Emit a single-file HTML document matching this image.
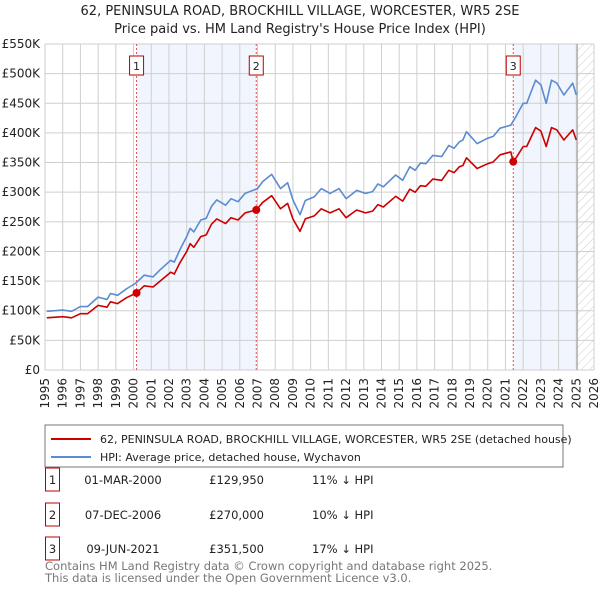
<!DOCTYPE html>
<html><head><meta charset="utf-8"><style>
body{margin:0;background:#fff;font-family:"DejaVu Sans","Liberation Sans",sans-serif;}
#wrap{position:relative;width:600px;height:590px;overflow:hidden;}
svg text{font-family:"DejaVu Sans","Liberation Sans",sans-serif;}
</style></head><body>
<div id="wrap">
<svg id="chart" width="600" height="590" xmlns="http://www.w3.org/2000/svg">
<defs><pattern id="hatch" width="6" height="6" patternUnits="userSpaceOnUse" patternTransform="rotate(45)"><line x1="0" y1="0" x2="0" y2="6" stroke="#ccc" stroke-width="1"/></pattern></defs>
<text x="300" y="15" text-anchor="middle" font-size="13" fill="#222">62, PENINSULA ROAD, BROCKHILL VILLAGE, WORCESTER, WR5 2SE</text>
<text x="300" y="33" text-anchor="middle" font-size="13" fill="#222">Price paid vs. HM Land Registry's House Price Index (HPI)</text>
<g id="grid"></g><g id="series"></g><g id="axes"></g>
<rect x="45" y="425" width="518" height="42" fill="#fff" stroke="#777" stroke-width="1"/>
<line x1="51" y1="439" x2="91" y2="439" stroke="#cc0000" stroke-width="2"/>
<text x="100" y="443" font-size="11" fill="#222">62, PENINSULA ROAD, BROCKHILL VILLAGE, WORCESTER, WR5 2SE (detached house)</text>
<line x1="51" y1="457" x2="91" y2="457" stroke="#5b8bd0" stroke-width="2"/>
<text x="100" y="461" font-size="11" fill="#222">HPI: Average price, detached house, Wychavon</text>
<g id="table"></g>
<text x="45" y="570" font-size="11.5" fill="#777">Contains HM Land Registry data © Crown copyright and database right 2025.</text>
<text x="45" y="582" font-size="11.5" fill="#777">This data is licensed under the Open Government Licence v3.0.</text>
</svg>
</div>
<script>
const hpiYears=[1995.1,1996.0,1996.5,1997.0,1997.4,1998.0,1998.5,1998.7,1999.1,1999.6,2000.1,2000.6,2001.1,2001.5,2002.1,2002.3,2002.6,2003.0,2003.2,2003.4,2003.8,2004.1,2004.4,2004.7,2005.2,2005.5,2005.9,2006.3,2007.0,2007.3,2007.8,2008.3,2008.7,2009.0,2009.4,2009.7,2010.2,2010.6,2011.1,2011.6,2012.0,2012.6,2013.1,2013.5,2013.8,2014.1,2014.8,2015.2,2015.6,2015.9,2016.2,2016.5,2016.9,2017.4,2017.8,2018.1,2018.4,2018.6,2018.8,2019.4,2020.0,2020.3,2020.7,2021.3,2021.6,2022.0,2022.2,2022.7,2023.0,2023.3,2023.6,2023.9,2024.3,2024.5,2024.8,2025.0];
const hpiValues=[99,101,99,107,107,123,119,129,126,137,146,160,157,169,185,182,202,225,239,233,253,256,276,287,278,289,284,298,306,318,330,306,316,287,262,286,292,306,298,306,289,303,298,301,314,309,329,320,343,337,349,348,362,360,379,374,385,388,402,382,391,394,408,413,428,450,450,489,481,450,489,484,464,472,484,464];
const propYears=[1995.1,1996.0,1996.5,1997.0,1997.4,1998.0,1998.5,1998.7,1999.1,1999.6,2000.17,2000.6,2001.1,2001.5,2002.1,2002.3,2002.6,2003.0,2003.2,2003.4,2003.8,2004.1,2004.4,2004.7,2005.2,2005.5,2005.9,2006.3,2006.93,2007.3,2007.8,2008.3,2008.7,2009.0,2009.4,2009.7,2010.2,2010.6,2011.1,2011.6,2012.0,2012.6,2013.1,2013.5,2013.8,2014.1,2014.8,2015.2,2015.6,2015.9,2016.2,2016.5,2016.9,2017.4,2017.8,2018.1,2018.4,2018.6,2018.8,2019.4,2020.0,2020.3,2020.7,2021.3,2021.44,2021.6,2022.0,2022.2,2022.7,2023.0,2023.3,2023.6,2023.9,2024.3,2024.5,2024.8,2025.0];
const propValues=[88,90,88,95,95,109,106,115,112,122,130,142,140,150,165,162,180,200,213,207,225,228,246,255,247,257,253,265,270,283,294,272,281,255,234,255,260,272,265,272,257,270,265,268,279,275,293,285,305,300,311,310,322,320,337,333,343,345,358,340,348,351,363,368,351.5,358,377,377,409,403,377,409,405,388,395,405,388];
const saleLabels=["1","2","3"];
const saleYears=[2000.17,2006.93,2021.44];
const salePrices=[129.95,270,351.5];
const saleDates=["01-MAR-2000","07-DEC-2006","09-JUN-2021"];
const salePriceText=["£129,950","£270,000","£351,500"];
const saleHpiText=["11% ↓ HPI","10% ↓ HPI","17% ↓ HPI"];
const yTicks=[0,50,100,150,200,250,300,350,400,450,500,550];
const yTickLabels=["£0","£50K","£100K","£150K","£200K","£250K","£300K","£350K","£400K","£450K","£500K","£550K"];
const xTicks=[1995,1996,1997,1998,1999,2000,2001,2002,2003,2004,2005,2006,2007,2008,2009,2010,2011,2012,2013,2014,2015,2016,2017,2018,2019,2020,2021,2022,2023,2024,2025,2026];
const dataEnd=2025.05;

const NS="http://www.w3.org/2000/svg";
const X0=45,X1=594,Y0=370,Y1=44;
const xs=y=>X0+(y-1995)/(2026-1995)*(X1-X0);
const ys=v=>Y0-v/550*(Y0-Y1);
function mk(tag,attrs,parent){const e=document.createElementNS(NS,tag);for(const k in attrs)e.setAttribute(k,attrs[k]);parent.appendChild(e);return e;}
const grid=document.getElementById('grid'),series=document.getElementById('series'),axes=document.getElementById('axes'),table=document.getElementById('table');

const bg=mk('rect',{x:X0,y:Y1,width:X1-X0,height:Y0-Y1,fill:'#fff'},grid);


const s1=mk('rect',{x:xs(saleYears[0]),y:Y1,width:xs(saleYears[1])-xs(saleYears[0]),height:Y0-Y1,fill:'#eef3fc',opacity:0.8},grid);


const s3=mk('rect',{x:xs(saleYears[2]),y:Y1,width:xs(dataEnd)-xs(saleYears[2]),height:Y0-Y1,fill:'#eef3fc',opacity:0.8},grid);


const hz=mk('rect',{x:xs(dataEnd),y:Y1,width:X1-xs(dataEnd),height:Y0-Y1,fill:'url(#hatch)'},grid);


xTicks.forEach(t=>{
  const l=mk('line',{x1:xs(t),x2:xs(t),y1:Y1,y2:Y0,stroke:'#cfcfcf','stroke-width':1},grid);
  
  
  const tx=mk('text',{x:0,y:0,'font-size':12,fill:'#222','text-anchor':'end',transform:`translate(${xs(t)+4},${Y0+8}) rotate(-90)`},axes);
  tx.textContent=t;
  
  
});
yTicks.forEach((t,i)=>{
  const l=mk('line',{x1:X0,x2:X1,y1:ys(t),y2:ys(t),stroke:'#cfcfcf','stroke-width':1},grid);
  
  
  const tx=mk('text',{x:X0-5,y:ys(t)+4,'font-size':12,fill:'#222','text-anchor':'end'},axes);
  tx.textContent=yTickLabels[i];
  
  
});
const de=mk('line',{x1:xs(dataEnd),x2:xs(dataEnd),y1:Y1,y2:Y0,stroke:'#999','stroke-width':1},grid);


saleYears.forEach((y,i)=>{
  const l=mk('line',{x1:xs(y),x2:xs(y),y1:Y1,y2:Y0,stroke:'#e05050','stroke-width':1,'stroke-dasharray':'2,2'},grid);
  
  
});
const pts=(xa,va)=>xa.map((y,i)=>xs(y).toFixed(1)+','+ys(va[i]).toFixed(1)).join(' ');
const hl=mk('polyline',{points:pts(hpiYears,hpiValues),fill:'none',stroke:'#5b8bd0','stroke-width':1.6,'stroke-linejoin':'round'},series);


const pl=mk('polyline',{points:pts(propYears,propValues),fill:'none',stroke:'#cc0000','stroke-width':1.6,'stroke-linejoin':'round'},series);


saleYears.forEach((y,i)=>{
  const c=mk('circle',{cx:xs(y),cy:ys(salePrices[i]),r:4,fill:'#cc0000'},series);
  
  
  const b=mk('rect',{x:xs(y)-7,y:56,width:14,height:19,fill:'#fff',stroke:'#b00','stroke-width':1},series);
  
  
  const t=mk('text',{x:xs(y),y:70,'font-size':11,fill:'#222','text-anchor':'middle'},series);
  t.textContent=saleLabels[i];
  
  
});
const rowY=[482,517,551];
saleLabels.forEach((lab,i)=>{
  const y=rowY[i];
  const b=mk('rect',{x:45.5,y:y-14,width:14,height:23,fill:'#fff',stroke:'#b00','stroke-width':1},table);
  
  
  const t0=mk('text',{x:52.5,y:y+2,'font-size':11.5,fill:'#222','text-anchor':'middle'},table);
  t0.textContent=lab;
  
  
  const t1=mk('text',{x:123,y:y+2,'font-size':11.5,fill:'#222','text-anchor':'middle'},table);
  t1.textContent=saleDates[i];
  
  
  const t2=mk('text',{x:264,y:y+2,'font-size':11.5,fill:'#222','text-anchor':'end'},table);
  t2.textContent=salePriceText[i];
  
  
  const t3=mk('text',{x:312,y:y+2,'font-size':11.5,fill:'#222'},table);
  t3.textContent=saleHpiText[i];
  
  
});
</script>
</body></html>
